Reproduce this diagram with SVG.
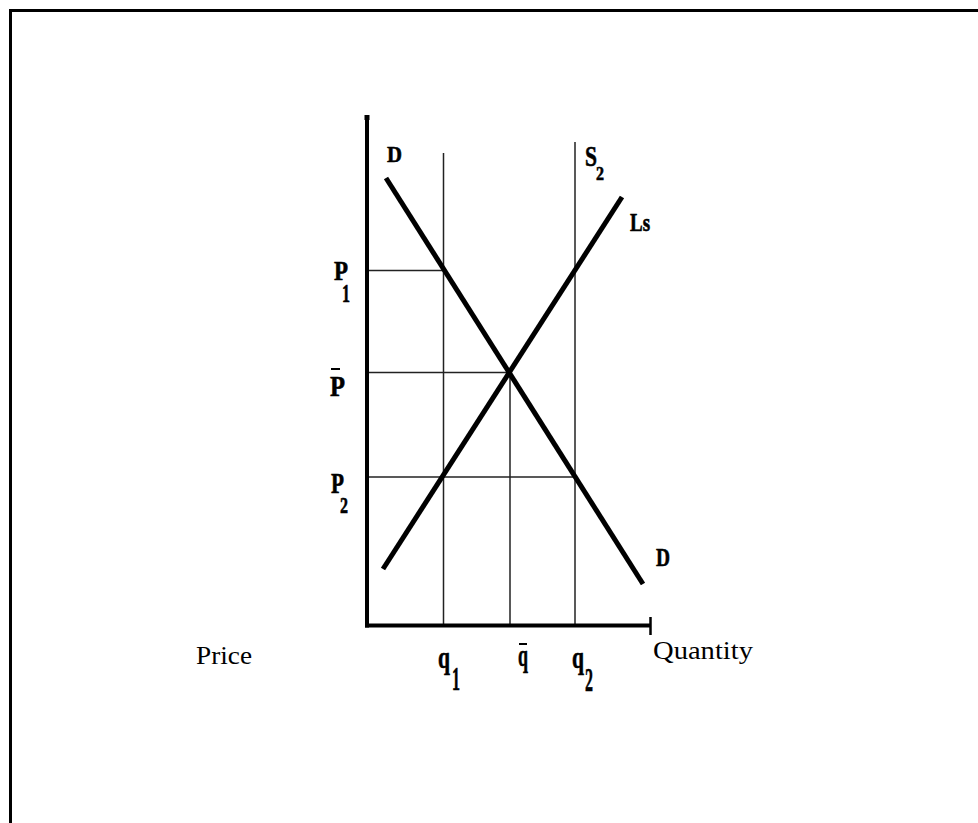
<svg xmlns="http://www.w3.org/2000/svg" width="978" height="823" viewBox="0 0 978 823">
<style>
.thin{stroke:#222;stroke-width:1.5;fill:none}
.curve{stroke:#000;stroke-width:5;fill:none;stroke-linecap:butt}
.axis{stroke:#000;stroke-width:4;fill:none}
.lbl{font-family:"Liberation Serif","DejaVu Serif",serif;font-weight:bold;fill:#000;stroke:#000;stroke-width:0.6}
.bar{stroke:#000;stroke-width:2}
.ax{font-family:"Liberation Serif","DejaVu Serif",serif;fill:#000}
</style>
<rect x="0" y="0" width="978" height="823" fill="#fff"/>
<rect x="10.5" y="10.5" width="1000" height="1000" fill="none" stroke="#000" stroke-width="3"/>
<g id="connectors">
<line class="thin" x1="443.5" y1="153" x2="443.5" y2="626"/>
<line class="thin" x1="510" y1="373" x2="510" y2="626"/>
<line class="thin" x1="575" y1="142" x2="575" y2="626"/>
<line class="thin" x1="367" y1="270.5" x2="443.5" y2="270.5"/>
<line class="thin" x1="367" y1="372.5" x2="510" y2="372.5"/>
<line class="thin" x1="367" y1="477" x2="575" y2="477"/>
</g>
<g id="axes">
<line class="axis" x1="367" y1="116" x2="367" y2="627.5"/>
<rect x="364.5" y="115" width="5" height="5" fill="#000"/>
<line class="axis" x1="365" y1="625.5" x2="650" y2="625.5"/>
<line stroke="#000" stroke-width="2.5" x1="650.5" y1="617" x2="650.5" y2="635"/>
</g>
<g id="demand">
<line class="curve" x1="386" y1="178" x2="643" y2="584"/>
<text class="lbl" x="387" y="162" font-size="24" textLength="15" lengthAdjust="spacingAndGlyphs">D</text>
<text class="lbl" x="656" y="566" font-size="25" textLength="14" lengthAdjust="spacingAndGlyphs">D</text>
</g>
<g id="supply-ls">
<line class="curve" x1="383" y1="569" x2="622" y2="197"/>
<text class="lbl" x="630" y="231" font-size="25" textLength="20" lengthAdjust="spacingAndGlyphs">Ls</text>
</g>
<g id="supply-s2">
<text class="lbl" x="585" y="166" font-size="29" textLength="12" lengthAdjust="spacingAndGlyphs">S</text>
<text class="lbl" x="596" y="180" font-size="18" textLength="8" lengthAdjust="spacingAndGlyphs">2</text>
</g>
<g id="price-labels">
<text class="lbl" x="334" y="280" font-size="27" textLength="14" lengthAdjust="spacingAndGlyphs">P</text>
<text class="lbl" x="342" y="302" font-size="25" textLength="8" lengthAdjust="spacingAndGlyphs">1</text>
<text class="lbl" x="330" y="396" font-size="29" textLength="15" lengthAdjust="spacingAndGlyphs">P</text>
<line class="bar" x1="331" y1="369" x2="340" y2="369"/>
<text class="lbl" x="331" y="493" font-size="29" textLength="13" lengthAdjust="spacingAndGlyphs">P</text>
<text class="lbl" x="340" y="513" font-size="24" textLength="8" lengthAdjust="spacingAndGlyphs">2</text>
</g>
<g id="quantity-labels">
<text class="lbl" x="438" y="668" font-size="32" textLength="12" lengthAdjust="spacingAndGlyphs">q</text>
<text class="lbl" x="452" y="690" font-size="33" textLength="8" lengthAdjust="spacingAndGlyphs">1</text>
<text class="lbl" x="518" y="666" font-size="32" textLength="10" lengthAdjust="spacingAndGlyphs">q</text>
<line class="bar" x1="519" y1="644" x2="527" y2="644"/>
<text class="lbl" x="572" y="668" font-size="32" textLength="12" lengthAdjust="spacingAndGlyphs">q</text>
<text class="lbl" x="585" y="691" font-size="33" textLength="8" lengthAdjust="spacingAndGlyphs">2</text>
</g>
<g id="axis-titles">
<text class="ax" x="196" y="664" font-size="26" textLength="56" lengthAdjust="spacingAndGlyphs">Price</text>
<text class="ax" x="653" y="659" font-size="25" textLength="100" lengthAdjust="spacingAndGlyphs">Quantity</text>
</g>
</svg>
